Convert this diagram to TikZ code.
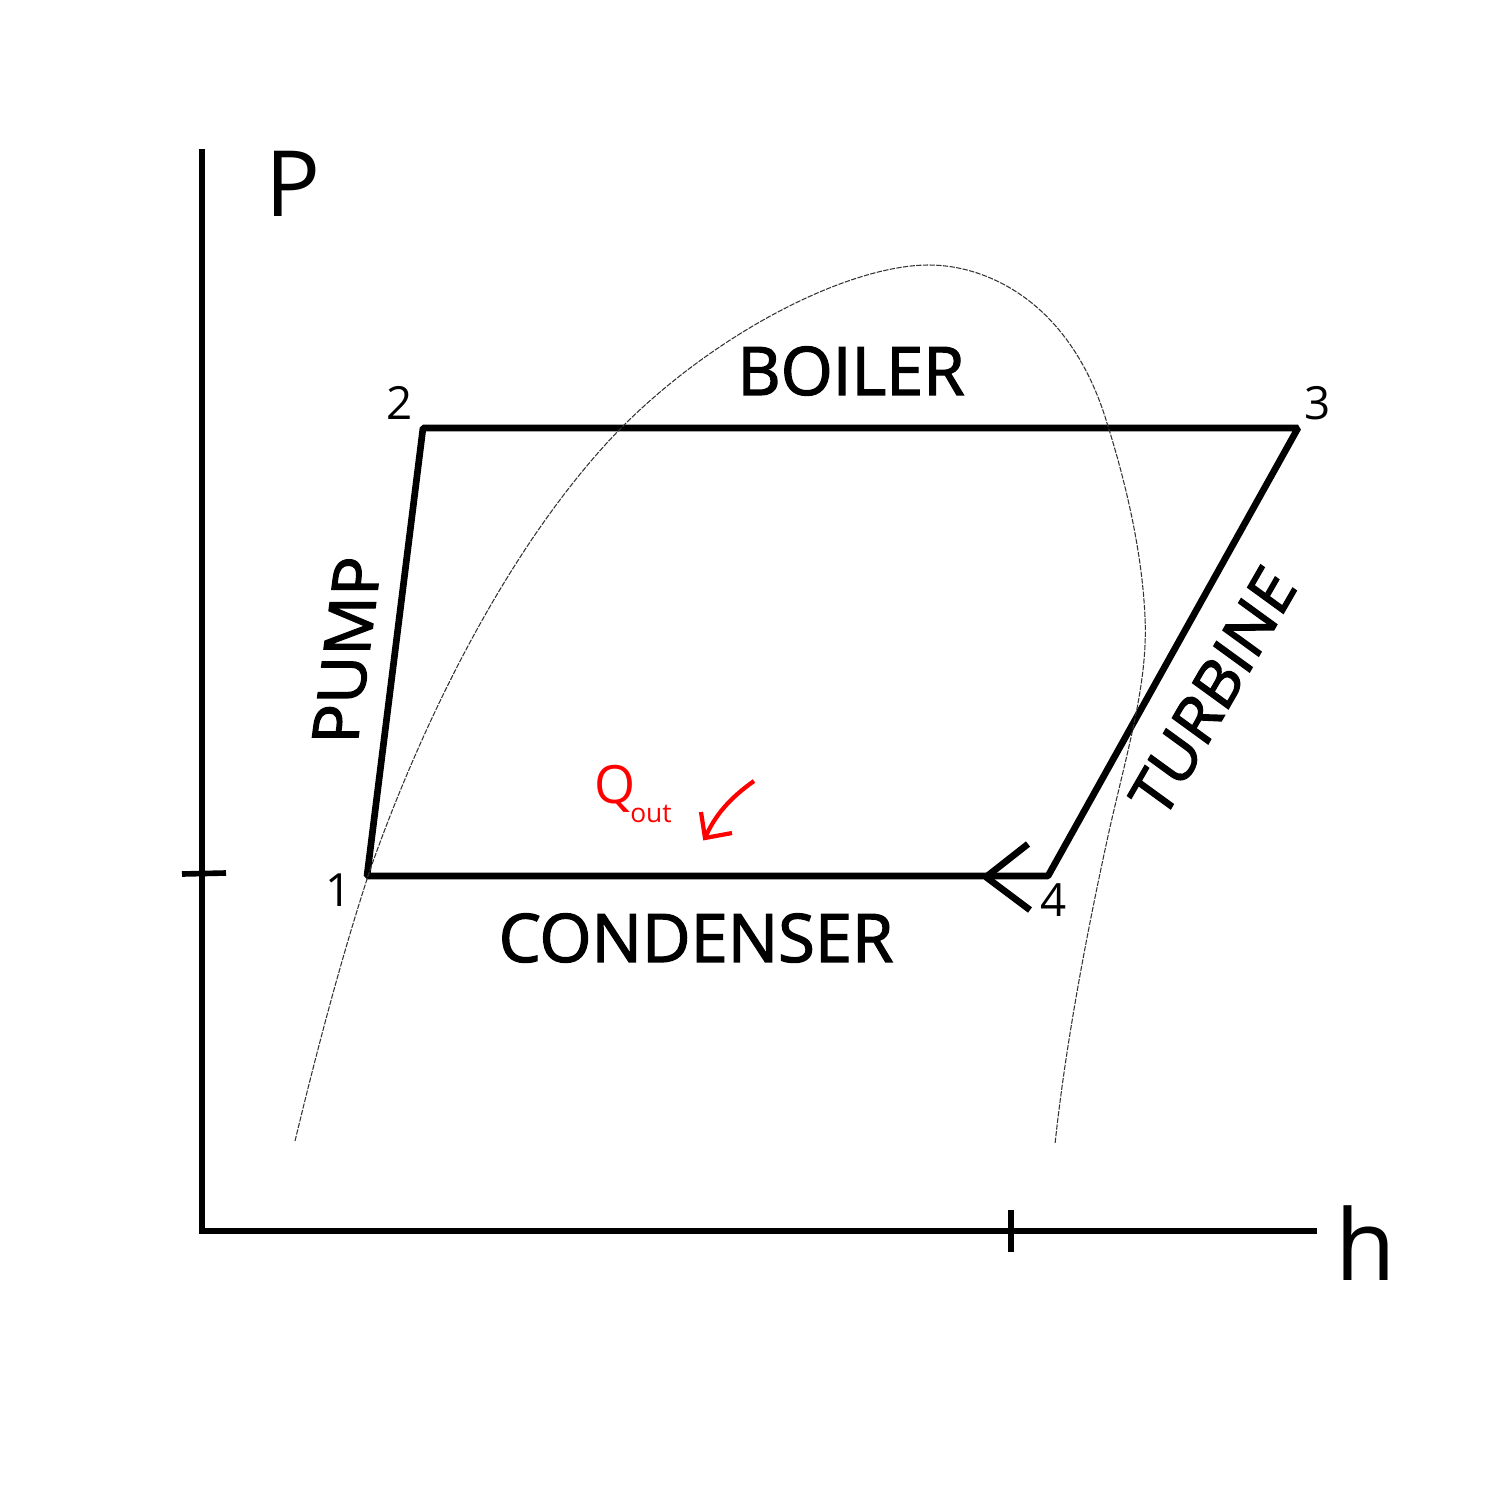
\documentclass[tikz,border=0pt]{standalone}
\usepackage{fontspec}
\setmainfont{Open Sans}
\newfontfamily\lblfont[FakeBold=2]{Open Sans}
\tikzset{
  axis/.style={line width=1.6pt},
  cycle/.style={line width=1.9pt, line join=bevel},
  dome/.style={line width=0.3pt, dash pattern=on 1.5pt off 0.4pt, black!80},
  lbl/.style={font=\lblfont\fontsize{19}{19}\selectfont, inner sep=0pt},
  num/.style={font=\fontsize{13}{13}\selectfont, inner sep=0pt}
}
\begin{document}
\begin{tikzpicture}[x=0.01cm, y=-0.01cm]
\useasboundingbox (0,0) rectangle (1500,1500);
% Sommets
\coordinate (o) at (202,1231);
\coordinate (ytop) at (202,149);
\coordinate (xend) at (1317,1231);
\coordinate (1) at (367,876);
\coordinate (2) at (423,428);
\coordinate (3) at (1298,428);
\coordinate (4) at (1048,876);
% Axes
\draw[axis] (ytop) -- (o) -- (xend);
\coordinate (ticka) at (182,874);
\coordinate (tickb) at (226,873);
\draw[axis] (ticka) -- (tickb);
\coordinate (tickc) at (1011,1210);
\coordinate (tickd) at (1011,1252);
\draw[axis] (tickc) -- (tickd);
% Cycle
\draw[cycle] (1) -- (2) -- (3) -- (4) -- cycle;
\coordinate (heada) at (1028,844);
\coordinate (headb) at (986,877);
\coordinate (headc) at (1030,910);
\draw[cycle] (heada) -- (headb) -- (headc);
% Dome
\coordinate (domea) at (295,1141);
\coordinate (domeb) at (929,265);
\coordinate (domec) at (1055,1144);
\draw[dome] (domea) .. controls (317,1050) and (342,955) .. (370,870)
  .. controls (430,700) and (520,530) .. (624,425)
  .. controls (720,330) and (850,265) .. (domeb)
  .. controls (985,265) and (1070,300) .. (1107,423)
  .. controls (1125,480) and (1142,550) .. (1145,617)
  .. controls (1148,680) and (1130,740) .. (1110,827)
  .. controls (1085,940) and (1065,1050) .. (domec);
% Arrow
\coordinate (qa) at (754,781);
\coordinate (qb) at (705,838);
\coordinate (qc) at (701,812);
\coordinate (qd) at (732,833);
\draw[red, line width=1.2pt] (qa) .. controls (730,798) and (715,815) .. (qb);
\draw[red, line width=1.2pt] (qc) -- (qb) -- (qd);
% Labels
\node[font=\fontsize{26}{26}\selectfont, inner sep=0pt] (p) at (293,184) {P};
\node[font=\fontsize{28}{28}\selectfont, inner sep=0pt] (h) at (1366,1243) {h};
\node[lbl] (boiler) at (851,371) {BOILER};
\node[lbl] (condenser) at (696,938) {CONDENSER};
\node[lbl, cm={0.13,0.99,-0.96,0,(0,0)}, transform shape] (pump) at (347,650) {PUMP};
\node[lbl, cm={0.49,0.85,-0.75,0.545,(0,0)}, transform shape] (turbine) at (1213,692) {TURBINE};
\node[num] (n1) at (339,890) {1};
\node[num] (n2) at (400,403) {2};
\node[num] (n3) at (1318,403) {3};
\node[num] (n4) at (1054,900) {4};
\node[red, font=\fontsize{15}{15}\selectfont, inner sep=0pt] (q) at (615,789) {Q};
\node[red, font=\fontsize{7.5}{7.5}\selectfont, inner sep=0pt] (out) at (651,814) {out};
\end{tikzpicture}
\end{document}
